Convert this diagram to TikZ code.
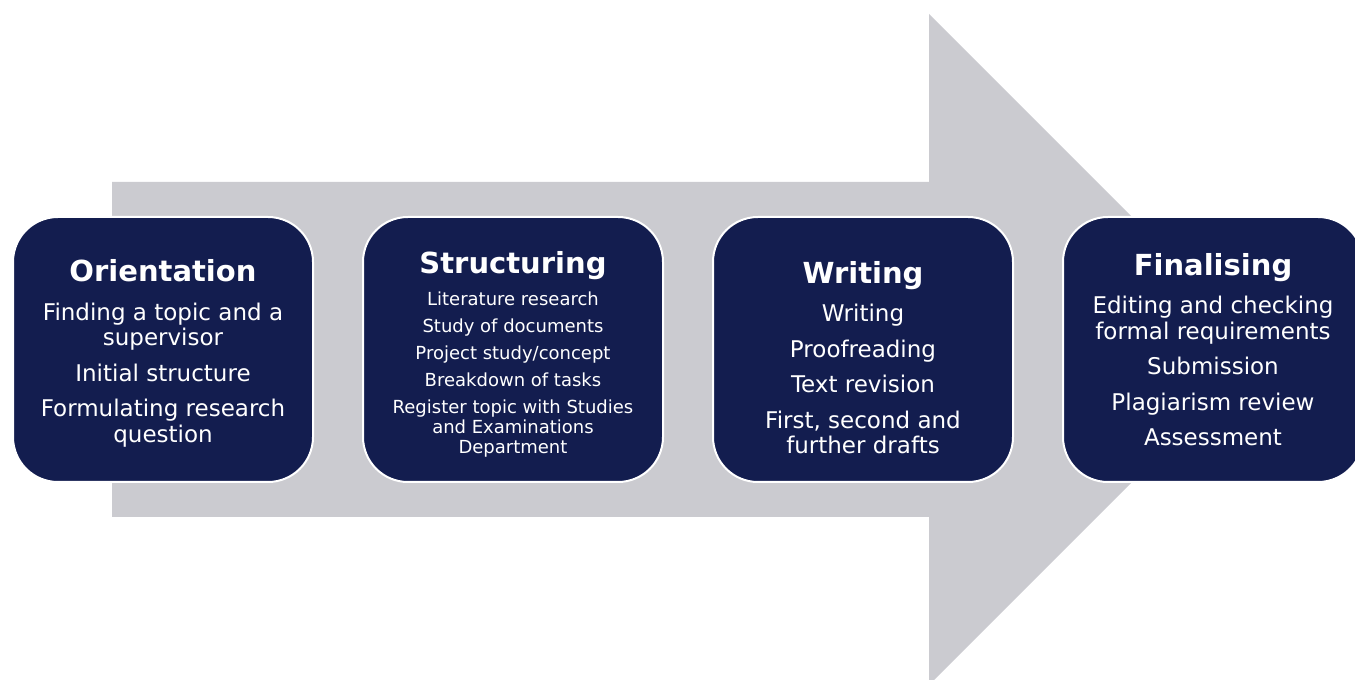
\documentclass[tikz,border=0pt]{standalone}
\usepackage{fontspec}
\setmainfont{DejaVu Sans}
\usetikzlibrary{positioning}
\definecolor{navy}{HTML}{131D4F}
\definecolor{arrowgray}{HTML}{CBCBD0}
% optional argument: strut height, pushes the text block down a little
\newcommand{\stagetitle}[2][0pt]{\rule{0pt}{#1}{\fontsize{29}{32}\selectfont\bfseries #2}}

\begin{document}
\begin{tikzpicture}[x=1pt,y=1pt,
    stage/.style={draw=white,line width=2pt,fill=navy,rounded corners=45pt,
      minimum width=300pt,minimum height=265pt,outer sep=0pt,
      text=white,align=center,font=\fontsize{23}{25.5}\selectfont},
    small/.style={font=\fontsize{18}{20}\selectfont},
    node distance=50pt]
  \useasboundingbox (0,0) rectangle (1355,680);

  % the big arrow behind the stages
  \fill[arrowgray] (112,498) -- (929,498) -- (929,666) -- (1264.5,330.5)
    -- (929,-5) -- (929,163) -- (112,163) -- cycle;

  \node[stage] (orient) at (163,330.5) {\stagetitle[30pt]{Orientation}\\[13pt]
    Finding a topic and a\\ supervisor\\[10pt]
    Initial structure\\[10pt]
    Formulating research\\ question};
  \node[stage,small,right=of orient] (struct) {\stagetitle[32pt]{Structuring}\\[12pt]
    Literature research\\[7pt]
    Study of documents\\[7pt]
    Project study/concept\\[7pt]
    Breakdown of tasks\\[7pt]
    Register topic with Studies\\ and Examinations\\ Department};
  \node[stage,right=of struct] (writ) {\stagetitle[38pt]{Writing}\\[13pt]
    Writing\\[10pt]
    Proofreading\\[10pt]
    Text revision\\[10pt]
    First, second and\\ further drafts};
  \node[stage,right=of writ] (final) {\stagetitle{Finalising}\\[13pt]
    Editing and checking\\ formal requirements\\[10pt]
    Submission\\[10pt]
    Plagiarism review\\[10pt]
    Assessment};
\end{tikzpicture}
\end{document}
